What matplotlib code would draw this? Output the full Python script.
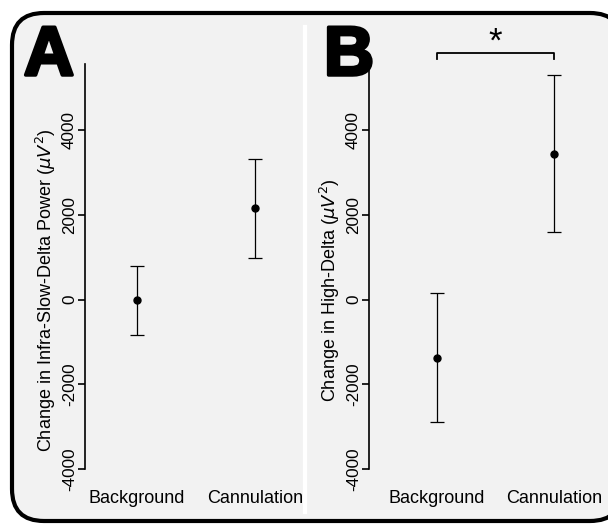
import matplotlib.pyplot as plt
import matplotlib.patches as mpatches
import matplotlib.patheffects as pe
from matplotlib.lines import Line2D
from matplotlib.transforms import IdentityTransform

plt.rcParams['font.family'] = ['Liberation Sans', 'DejaVu Sans']

groups = ["Background", "Cannulation"]

# panel A: infra-slow-delta power change
isd_mean = [-20, 2150]
isd_low = [-840, 980]
isd_high = [790, 3310]

# panel B: high-delta change
hd_mean = [-1370, 3430]
hd_low = [-2900, 1590]
hd_high = [150, 5290]

W, H = 608, 527
fig = plt.figure(figsize=(W / 100, H / 100), dpi=100, facecolor="white")

# rounded grey panel with a black border (runs off the right/bottom edge)
box = mpatches.FancyBboxPatch((12, 6), 610, 508,
                              boxstyle="round,pad=0,rounding_size=32",
                              facecolor="#f2f2f2", edgecolor="black", lw=3,
                              transform=IdentityTransform(), zorder=0)
fig.add_artist(box)
# white divider between the panels
fig.add_artist(Line2D([304.5, 304.5], [H - 512, H - 27], color="white", lw=3,
                      transform=IdentityTransform(), zorder=1))


def make_panel(left_px, right_px, x1_px, spacing, mean, low, high, ylabel):
    ax = fig.add_axes([left_px / W, (H - 469) / H, (right_px - left_px) / W, (469 - 64) / H])
    ax.patch.set_visible(False)
    x = [1, 2]
    yerr = [[m - l for m, l in zip(mean, low)], [h - m for m, h in zip(mean, high)]]
    ax.errorbar(x, mean, yerr=yerr, fmt="o", color="black", ms=5, elinewidth=0.9,
                capsize=5, capthick=0.9)
    ax.set_xlim(1 - (x1_px - left_px) / spacing, 1 + (right_px - x1_px) / spacing)
    ax.set_ylim(-4000, 5560)
    ax.set_yticks([-4000, -2000, 0, 2000, 4000])
    ax.set_yticklabels(["-4000", "-2000", "0", "2000", "4000"], rotation=90, va="center")
    ax.set_xticks(x)
    ax.set_xticklabels(groups, fontsize=13)
    for s in ["top", "right", "bottom"]:
        ax.spines[s].set_visible(False)
    ax.spines["left"].set_linewidth(1.2)
    ax.tick_params(axis="y", length=5, width=1.2, labelsize=12.3, pad=0.8)
    ax.tick_params(axis="x", length=0, pad=15)
    ax.set_ylabel(ylabel, fontsize=13)
    ax.yaxis.set_label_coords(-27 / (right_px - left_px), (469 - 290) / 405)
    return ax


axA = make_panel(85, 300, 137, 118, isd_mean, isd_low, isd_high,
                 r"Change in Infra-Slow-Delta Power ($\mu V^2$)")
axB = make_panel(369, 600, 437, 117, hd_mean, hd_low, hd_high,
                 r"Change in High-Delta ($\mu V^2$)")

heavy = [pe.withStroke(linewidth=2.5, foreground="black")]
fig.text(49 / W, 1 - 57 / H, "A", fontsize=50, fontweight="bold", ha="center", va="center",
         path_effects=heavy)
fig.text(349 / W, 1 - 57 / H, "B", fontsize=50, fontweight="bold", ha="center", va="center",
         path_effects=heavy)

# significance bracket above panel B
yb = 5560 + 11 / 84.75 * 2000
ytip = yb - 6 / 84.75 * 2000
axB.plot([1, 1, 2, 2], [ytip, yb, yb, ytip], color="black", lw=1.3, clip_on=False)
axB.text(1.5, yb + 11 / 84.75 * 2000, "*", fontsize=25, ha="center", va="center")

fig.savefig("out.png", dpi=100, facecolor="white")
